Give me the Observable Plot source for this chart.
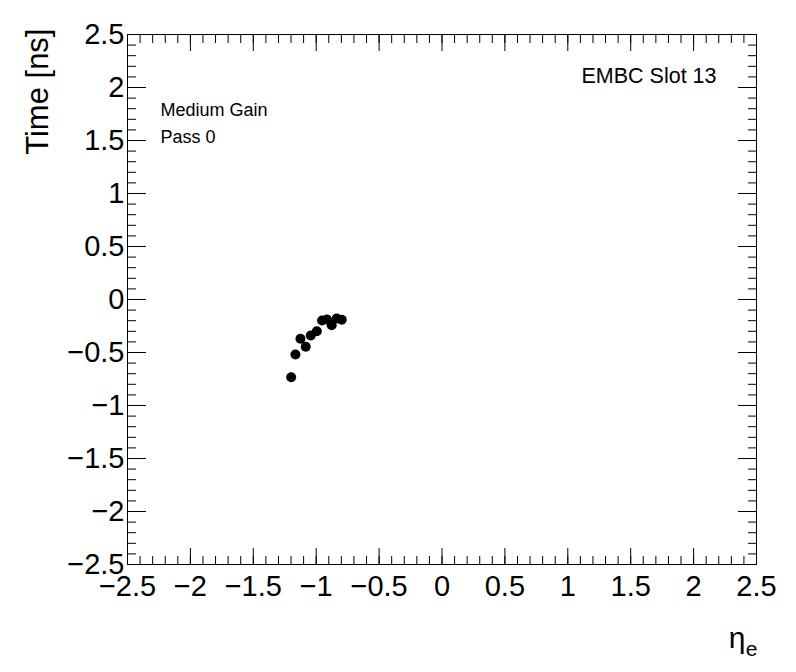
<!DOCTYPE html>
<html><head><meta charset="utf-8">
<script src="https://cdn.jsdelivr.net/npm/d3@7"></script>
<script src="https://cdn.jsdelivr.net/npm/@observablehq/plot@0.6"></script>
<style>body{margin:0;background:#fff}</style>
</head><body><div id="chart"></div>
<script>
// data
const eta  = [-1.199, -1.165, -1.125, -1.083, -1.043, -0.995, -0.953, -0.914, -0.877, -0.837, -0.797];
const time = [-0.733, -0.519, -0.371, -0.446, -0.340, -0.299, -0.198, -0.189, -0.243, -0.179, -0.191];

const majorTicks = [-2.5, -2, -1.5, -1, -0.5, 0, 0.5, 1, 1.5, 2, 2.5];
const tickLabels = ["\u22122.5", "\u22122", "\u22121.5", "\u22121", "\u22120.5", "0", "0.5", "1", "1.5", "2", "2.5"];
const minorTicks = d3.range(-25, 26).map(i => i / 10);

const xTitle = "\u03b7";
const xTitleSub = "e";
const yTitle = "Time [ns]";
const labelGain = "Medium Gain";
const labelPass = "Pass 0";
const labelRight = "EMBC Slot 13";

const points = eta.map((e, i) => ({eta: e, time: time[i]}));
const fmt = d => tickLabels[majorTicks.indexOf(d)];
const none = () => "";

const chart = Plot.plot({
  width: 796, height: 672,
  marginLeft: 127, marginRight: 40, marginTop: 34, marginBottom: 108,
  style: {fontFamily: "'Liberation Sans', Arial, Helvetica, sans-serif", background: "white", color: "black"},
  x: {domain: [-2.5, 2.5]},
  y: {domain: [-2.5, 2.5]},
  marks: [
    Plot.frame({stroke: "black"}),
    // x ticks (bottom & top, inward)
    Plot.axisX(minorTicks, {anchor: "bottom", tickSize: -8, tickFormat: none, label: null}),
    Plot.axisX(majorTicks, {anchor: "bottom", tickSize: -16, tickFormat: none, label: null}),
    Plot.axisX(minorTicks, {anchor: "top", tickSize: -8, tickFormat: none, label: null}),
    Plot.axisX(majorTicks, {anchor: "top", tickSize: -16, tickFormat: none, label: null}),
    // y ticks (left & right, inward)
    Plot.axisY(minorTicks, {anchor: "left", tickSize: -9, tickFormat: none, label: null}),
    Plot.axisY(majorTicks, {anchor: "left", tickSize: -19, tickFormat: none, label: null}),
    Plot.axisY(minorTicks, {anchor: "right", tickSize: -9, tickFormat: none, label: null}),
    Plot.axisY(majorTicks, {anchor: "right", tickSize: -19, tickFormat: none, label: null}),
    // tick labels
    Plot.axisX(majorTicks, {anchor: "bottom", tickSize: 0, tickPadding: 11, tickFormat: fmt, fontSize: 29, label: null}),
    Plot.axisY(majorTicks, {anchor: "left", tickSize: 0, tickPadding: 3, tickFormat: fmt, fontSize: 29, label: null}),
    // titles
    Plot.text([yTitle], {text: d => d, frameAnchor: "top-left", rotate: -90, textAnchor: "end", dx: -102, dy: -6, fontSize: 31, fill: "black"}),
    Plot.text([xTitle], {text: d => d, frameAnchor: "bottom-right", textAnchor: "end", lineAnchor: "bottom", dx: -11, dy: 83, fontSize: 30, fill: "black"}),
    Plot.text([xTitleSub], {text: d => d, frameAnchor: "bottom-right", textAnchor: "end", lineAnchor: "bottom", dx: 1, dy: 91, fontSize: 21, fill: "black"}),
    // annotations
    Plot.text([labelGain], {text: d => d, frameAnchor: "top-left", textAnchor: "start", lineAnchor: "bottom", dx: 33, dy: 81, fontSize: 18, fill: "black"}),
    Plot.text([labelPass], {text: d => d, frameAnchor: "top-left", textAnchor: "start", lineAnchor: "bottom", dx: 33, dy: 108, fontSize: 18, fill: "black"}),
    Plot.text([labelRight], {text: d => d, frameAnchor: "top-right", textAnchor: "end", lineAnchor: "bottom", dx: -40, dy: 48, fontSize: 21.5, fill: "black"}),
    Plot.dot(points, {x: "eta", y: "time", r: 5, fill: "black", stroke: null})
  ]
});
document.getElementById("chart").appendChild(chart);
</script>
</body></html>
